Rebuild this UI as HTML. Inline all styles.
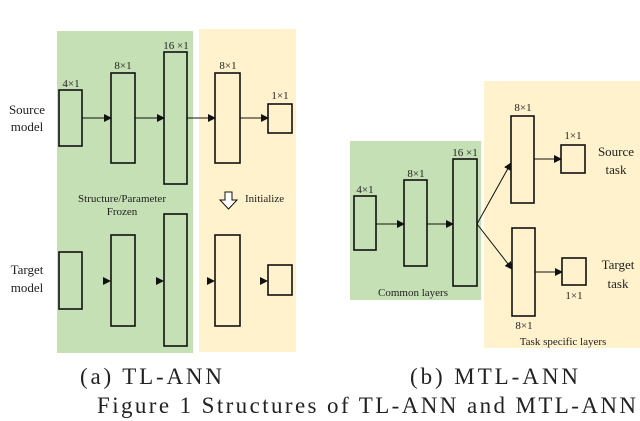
<!DOCTYPE html>
<html><head><style>body{margin:0;background:#fff}svg{display:block}text{font-family:"Liberation Serif",serif;fill:#222}</style></head><body>
<svg width="640" height="421" viewBox="0 0 640 421" xmlns="http://www.w3.org/2000/svg">
<defs><marker id="a" markerWidth="8" markerHeight="8" refX="7" refY="4" orient="auto" markerUnits="userSpaceOnUse"><path d="M0,0L8,4L0,8z" fill="#111"/></marker></defs>
<rect x="57" y="31" width="136" height="322" fill="#c5e0b4"/>
<rect x="199" y="29" width="97" height="323" fill="#fff2cc"/>
<rect x="350" y="141" width="131" height="159" fill="#c5e0b4"/>
<rect x="484" y="81" width="156" height="267" fill="#fff2cc"/>
<g fill="none" stroke="#111" stroke-width="1.6">
<rect x="59" y="90" width="23" height="56"/><rect x="111" y="73" width="24" height="90"/><rect x="164" y="52" width="23" height="132"/><rect x="215" y="73" width="25" height="90"/><rect x="268" y="104" width="24" height="29"/>
<rect x="59" y="252" width="23" height="57"/><rect x="111" y="235" width="24" height="91"/><rect x="164" y="214" width="23" height="132"/><rect x="215" y="235" width="25" height="91"/><rect x="268" y="265" width="24" height="30"/>
<rect x="354" y="196" width="22" height="54"/><rect x="404" y="180" width="23" height="86"/><rect x="453" y="159" width="24" height="127"/>
<rect x="511" y="116" width="23" height="87"/><rect x="561" y="145" width="24" height="28"/><rect x="512" y="228" width="23" height="88"/><rect x="562" y="258" width="24" height="27"/>
</g>
<g stroke="#111" stroke-width="1" marker-end="url(#a)">
<line x1="82" y1="118" x2="111" y2="118"/><line x1="135" y1="118" x2="164" y2="118"/><line x1="187" y1="118" x2="215" y2="118"/><line x1="240" y1="118" x2="268" y2="118"/>
<line x1="376" y1="224" x2="404" y2="224"/><line x1="427" y1="224" x2="453" y2="224"/>
<line x1="477" y1="224" x2="511" y2="163"/><line x1="477" y1="224" x2="512" y2="269"/>
<line x1="534" y1="159" x2="561" y2="159"/><line x1="535" y1="272" x2="562" y2="272"/>
</g>
<g fill="#111"><path d="M103,277L111,281L103,285z"/><path d="M156,277L164,281L156,285z"/><path d="M207,277L215,281L207,285z"/><path d="M260,277L268,281L260,285z"/></g>
<path d="M225,192h7v8h5l-8.5,9l-8.5,-9h5z" fill="#fff" stroke="#111" stroke-width="1"/>
<g font-size="11" text-anchor="middle">
<text x="71" y="87">4×1</text><text x="123" y="69">8×1</text><text x="176" y="49">16 ×1</text><text x="228" y="69">8×1</text><text x="280" y="99">1×1</text>
<text x="122" y="202">Structure/Parameter</text><text x="122" y="215">Frozen</text>
<text x="365" y="193">4×1</text><text x="416" y="177">8×1</text><text x="465" y="156">16 ×1</text>
<text x="523" y="111">8×1</text><text x="573" y="139">1×1</text><text x="574" y="299">1×1</text><text x="524" y="329">8×1</text>
<text x="413" y="296">Common layers</text><text x="563" y="345">Task specific layers</text>
</g>
<text x="245" y="202" font-size="11">Initialize</text>
<g font-size="13" text-anchor="middle">
<text x="27" y="114">Source</text><text x="27" y="131">model</text>
<text x="27" y="274">Target</text><text x="27" y="292">model</text>
<text x="616" y="156">Source</text><text x="616" y="174">task</text>
<text x="618" y="269">Target</text><text x="618" y="288">task</text>
</g>
<text x="80" y="384" font-size="23" textLength="142">(a) TL-ANN</text>
<text x="410" y="384" font-size="23" textLength="168">(b) MTL-ANN</text>
<text x="97" y="413" font-size="23" textLength="539">Figure 1 Structures of TL-ANN and MTL-ANN</text>
</svg>
</body></html>
